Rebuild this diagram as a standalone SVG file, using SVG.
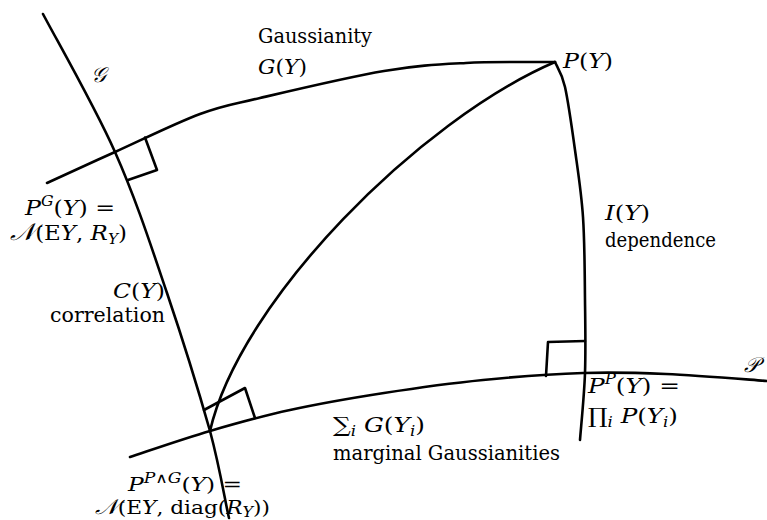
<svg xmlns="http://www.w3.org/2000/svg" width="767" height="520" viewBox="0 0 767 520">
<style>
.ln { fill: none; stroke: #000; stroke-width: 2.6; stroke-linejoin: round; stroke-linecap: round; }
text { font-family: 'DejaVu Serif', 'Liberation Serif', serif; font-size: 21px; fill: #000; }
.i { font-style: italic; }
.s { font-size: 14px; }
.scr { font-family: 'DejaVu Serif', 'DejaVu Sans', serif; font-style: italic; }
.sm { font-size: 19px; }
</style>
<rect width="767" height="520" fill="#fff"/>
<g id="curves">
  <path id="curve-G" class="ln" d="M43,14 C55,37 94.3,105.5 115,152 C135.7,198.5 151.2,246.3 167,293 C182.8,339.7 199.8,395 210,431 C220.2,469 225,501.2 229,518"/>
  <path id="curve-gaussianity" class="ln" d="M47,183 C58.3,177.8 89.5,163.5 115,152 C140.5,140.5 175.8,123 200,114 C224.2,105 229.3,105.2 260,98 C290.7,90.8 349.7,76.8 384,71 C418.3,65.2 437.5,64.5 466,63 C494.5,61.5 540.2,62.2 555,62"/>
  <path id="curve-correlation-diag" class="ln" d="M210,431 C240,300 420,120 555,62"/>
  <path id="curve-dependence" class="ln" d="M555,62 C556.7,66.2 561.7,72.3 565,87 C568.3,101.7 572,128.3 575,150 C578,171.7 581.3,192 583,217 C584.7,242 584.7,274 585,300 C585.3,326 585.8,349.7 585,373 C584.2,396.3 580.8,428.8 580,440"/>
  <path id="curve-P" class="ln" d="M130,457 C143.3,452.7 183.3,438.8 210,431 C236.7,423.2 261,416.3 290,410 C319,403.7 351.8,398 384,393 C416.2,388 449.8,383.3 483,380 C516.2,376.7 552.5,374 583,373 C613.5,372 635.3,372.7 666,374 C696.7,375.3 750.2,379.8 767,381"/>
</g>
<g id="right-angles">
  <polyline class="ln" points="145,137.5 157,170 128,180"/>
  <polyline class="ln" points="204,410 245,388 255,418"/>
  <polyline class="ln" points="546,376 548,342 585,341"/>
</g>
<g id="labels">
  <text id="lbl-calG" class="scr" x="91" y="82" font-size="32">𝒢</text>
  <text id="lbl-gaussianity" x="258" y="43" textLength="114" lengthAdjust="spacingAndGlyphs">Gaussianity</text>
  <text id="lbl-GY" x="258" y="74" textLength="49" lengthAdjust="spacingAndGlyphs"><tspan class="i">G</tspan>(<tspan class="i">Y</tspan>)</text>
  <text id="lbl-PY" x="563" y="68" textLength="50" lengthAdjust="spacingAndGlyphs"><tspan class="i">P</tspan>(<tspan class="i">Y</tspan>)</text>
  <text id="lbl-PG" x="25" y="215" textLength="90" lengthAdjust="spacingAndGlyphs"><tspan class="i">P</tspan><tspan class="i s" dy="-9">G</tspan><tspan dy="9">(</tspan><tspan class="i">Y</tspan>) =</text>
  <text id="lbl-NEYR" x="10" y="240" textLength="117" lengthAdjust="spacingAndGlyphs"><tspan class="scr" font-size="24">𝒩</tspan>(E<tspan class="i">Y</tspan>, <tspan class="i">R</tspan><tspan class="i s" dy="4">Y</tspan><tspan dy="-4">)</tspan></text>
  <text id="lbl-CY" x="113" y="298" textLength="52" lengthAdjust="spacingAndGlyphs"><tspan class="i">C</tspan>(<tspan class="i">Y</tspan>)</text>
  <text id="lbl-correlation" x="50" y="322" textLength="115" lengthAdjust="spacingAndGlyphs">correlation</text>
  <text id="lbl-IY" x="605" y="220" textLength="45" lengthAdjust="spacingAndGlyphs"><tspan class="i">I</tspan>(<tspan class="i">Y</tspan>)</text>
  <text id="lbl-dependence" x="605" y="247" textLength="111" lengthAdjust="spacingAndGlyphs">dependence</text>
  <text id="lbl-PP" x="588" y="393" textLength="92" lengthAdjust="spacingAndGlyphs"><tspan class="i">P</tspan><tspan class="i s" dy="-9">P</tspan><tspan dy="9">(</tspan><tspan class="i">Y</tspan>) =</text>
  <text id="lbl-prod" x="588" y="423" textLength="90" lengthAdjust="spacingAndGlyphs">∏<tspan class="i s" dy="4">i</tspan><tspan class="i" dy="-4"> P</tspan>(<tspan class="i">Y</tspan><tspan class="i s" dy="4">i</tspan><tspan dy="-4">)</tspan></text>
  <text id="lbl-sum" x="333" y="432" textLength="92" lengthAdjust="spacingAndGlyphs">∑<tspan class="i s" dy="4">i</tspan><tspan class="i" dy="-4"> G</tspan>(<tspan class="i">Y</tspan><tspan class="i s" dy="4">i</tspan><tspan dy="-4">)</tspan></text>
  <text id="lbl-marginal" x="333" y="460" textLength="227" lengthAdjust="spacingAndGlyphs">marginal Gaussianities</text>
  <text id="lbl-PPG" class="sm" x="128" y="491" textLength="114" lengthAdjust="spacingAndGlyphs"><tspan class="i">P</tspan><tspan class="i s" dy="-8" font-size="12">P∧G</tspan><tspan dy="8">(</tspan><tspan class="i">Y</tspan>) =</text>
  <text id="lbl-Ndiag" class="sm" x="95" y="514" textLength="175" lengthAdjust="spacingAndGlyphs"><tspan class="scr" font-size="21">𝒩</tspan>(E<tspan class="i">Y</tspan>, diag(<tspan class="i">R</tspan><tspan class="i s" dy="3" font-size="12">Y</tspan><tspan dy="-3">))</tspan></text>
  <text id="lbl-calP" class="scr" x="744" y="372" font-size="32">𝒫</text>
</g>
</svg>
